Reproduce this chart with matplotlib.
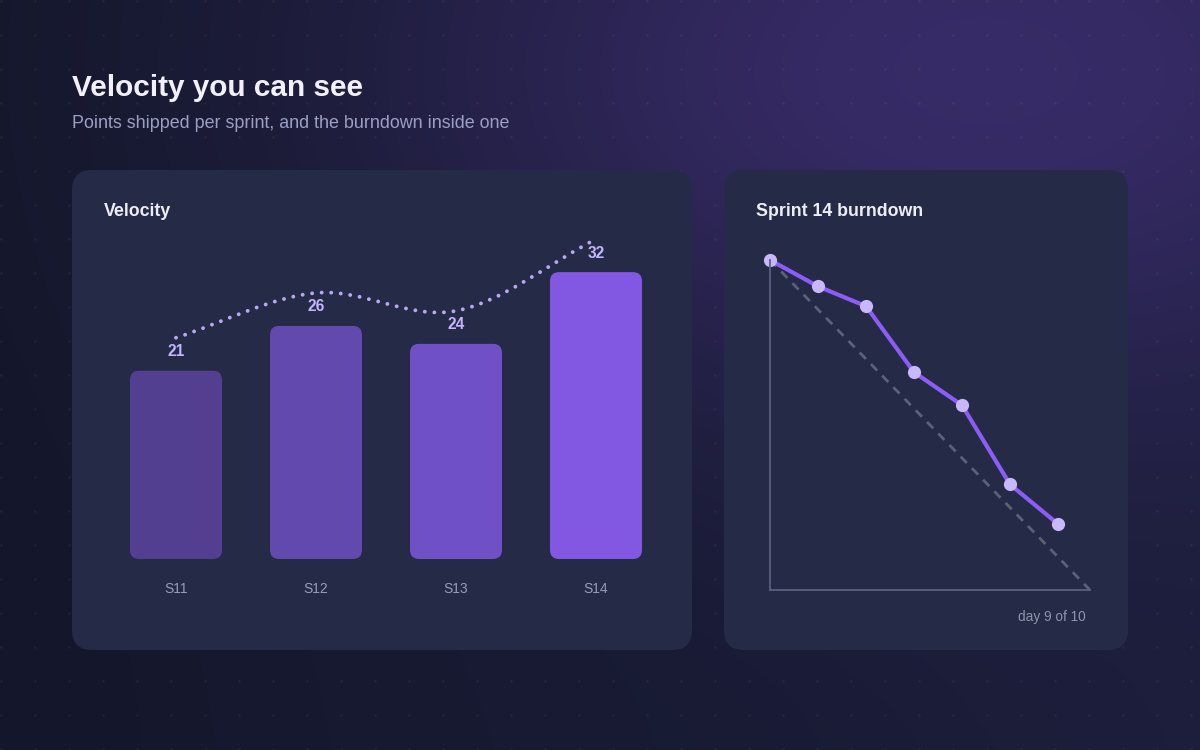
import matplotlib.pyplot as plt
import numpy as np
from matplotlib.patches import FancyBboxPatch, PathPatch
from matplotlib.path import Path
from matplotlib.transforms import ScaledTranslation

plt.rcParams['font.family'] = ['Liberation Sans', 'DejaVu Sans']

# data
sprints = ['S11', 'S12', 'S13', 'S14']
velocity = [21, 26, 24, 32]
bar_colors = ['#523f90', '#6249ae', '#7050c6', '#8257e2']

burn_days = [0, 1.5, 3, 4.5, 6, 7.5, 9]
burn_remaining = [50, 46, 43, 33, 28, 16, 10]
sprint_length = 10
sprint_scope = 50
current_day = 9

W, H = 1200, 750
DPI = 100
fig = plt.figure(figsize=(W / DPI, H / DPI), dpi=DPI)


def px_axes(x0, y0, x1, y1):
    return fig.add_axes([x0 / W, 1 - y1 / H, (x1 - x0) / W, (y1 - y0) / H])


def fig_text(x, y, s, **kw):
    fig.text(x / W, 1 - y / H, s, **kw)


# background with glow and dot grid
bg = px_axes(0, 0, W, H)
bg.set_xlim(0, W)
bg.set_ylim(H, 0)
bg.axis('off')

yy, xx = np.mgrid[0:H, 0:W]
t = np.clip(xx / W, 0, 1)[..., None]
c0 = np.array([0x14, 0x17, 0x2b]) / 255
c1 = np.array([0x1c, 0x1e, 0x3b]) / 255
img = c0 + (c1 - c0) * t
glow = np.exp(-(((xx - 980) / 560) ** 2 + ((yy - 70) / 330) ** 2))[..., None]
gc = np.array([0x3b, 0x2d, 0x6d]) / 255
img = img * (1 - glow * 0.9) + gc * glow * 0.9
bg.imshow(img, extent=(0, W, H, 0), aspect='auto', zorder=0)

gx, gy = np.meshgrid(np.arange(1, W, 34), np.arange(1, H, 34))
bg.scatter(gx.ravel(), gy.ravel(), s=3, color='#ffffff', alpha=0.06, lw=0, zorder=1)

panel_color = '#252a46'
for (x0, y0, x1, y1) in [(72, 170, 692, 650), (724, 170, 1128, 650)]:
    bg.add_patch(FancyBboxPatch((x0, y0), x1 - x0, y1 - y0,
                                boxstyle='round,pad=0,rounding_size=20',
                                fc=panel_color, ec='none', zorder=2))

fig_text(72, 88, 'Velocity you can see', fontsize=21.4, fontweight='bold',
         color='#f1f0fb', va='center')
fig_text(72, 123, 'Points shipped per sprint, and the burndown inside one',
         fontsize=12.9, color='#9c9fc4', va='center')
fig_text(104, 211, 'Velocity', fontsize=12.8, fontweight='bold',
         color='#eeeef8', va='center')
fig_text(756, 211, 'Sprint 14 burndown', fontsize=12.8, fontweight='bold',
         color='#eeeef8', va='center')

# velocity bars
ax = px_axes(106, 230, 666, 559)
ax.set_xlim(-0.5, len(sprints) - 0.5)
ax.set_ylim(0, 36.7)
ax.axis('off')
ax.patch.set_alpha(0)

x = np.arange(len(sprints))
bar_w = 92 / 140
bars = ax.bar(x, velocity, width=bar_w, color='none')
px_per_x = 560 / len(sprints)
px_per_y = 329 / 36.7
r = 9
for b, col in zip(bars, bar_colors):
    ax.add_patch(FancyBboxPatch((b.get_x(), 0), b.get_width(), b.get_height(),
                                boxstyle='round,pad=0,rounding_size=%f' % (r / px_per_x),
                                mutation_aspect=px_per_x / px_per_y,
                                fc=col, ec='none'))

for i, v in enumerate(velocity):
    ax.annotate(str(v), (i, v), xytext=(0, 19 * 0.72), textcoords='offset points',
                ha='center', va='center', fontsize=11.2, fontweight='bold',
                color='#c4b5fd', annotation_clip=False)
    ax.annotate(sprints[i], (i, 0), xytext=(0, -30 * 0.72), textcoords='offset points',
                ha='center', va='center', fontsize=10, color='#979cb8',
                annotation_clip=False)

# smooth dotted trend (catmull-rom), drawn a fixed distance above the bar tops
n = len(velocity)
tang = [0.0] * n
for i in range(1, n - 1):
    tang[i] = (velocity[i + 1] - velocity[i - 1]) / 2
tang[0] = velocity[1] - velocity[0]
tang[-1] = velocity[-1] - velocity[-2]
verts = [(x[0], velocity[0])]
codes = [Path.MOVETO]
for i in range(n - 1):
    verts += [(x[i] + 1 / 3, velocity[i] + tang[i] / 3),
              (x[i + 1] - 1 / 3, velocity[i + 1] - tang[i + 1] / 3),
              (x[i + 1], velocity[i + 1])]
    codes += [Path.CURVE4] * 3
shift = ax.transData + ScaledTranslation(0, 33 / DPI, fig.dpi_scale_trans)
ax.add_patch(PathPatch(Path(verts, codes), fill=False, ec='#b9a8f0', lw=2.8,
                       linestyle=(0, (0.01, 2.45)), capstyle='round',
                       transform=shift, clip_on=False))

# burndown
bx = px_axes(770, 260, 1090, 590)
bx.set_xlim(0, sprint_length)
bx.set_ylim(0, sprint_scope)
bx.patch.set_alpha(0)
for s in ['top', 'right']:
    bx.spines[s].set_visible(False)
for s in ['left', 'bottom']:
    bx.spines[s].set_color('#5a6080')
    bx.spines[s].set_linewidth(1.3)
bx.set_xticks([])
bx.set_yticks([])

bx.plot([0, sprint_length], [sprint_scope, 0], color='#5b6179', lw=2,
        dashes=(3.2, 2.6), clip_on=False)
bx.plot(burn_days, burn_remaining, color='#8b5cf6', lw=3, clip_on=False,
        solid_joinstyle='round')
bx.plot(burn_days, burn_remaining, 'o', ms=9.5, color='#c7b8fb', mec='none',
        clip_on=False)

fig_text(1086, 617, 'day %d of %d' % (current_day, sprint_length), fontsize=9.8,
         color='#8f94ae', ha='right', va='center')

fig.savefig('out.png', dpi=DPI, facecolor='#151a2c')
